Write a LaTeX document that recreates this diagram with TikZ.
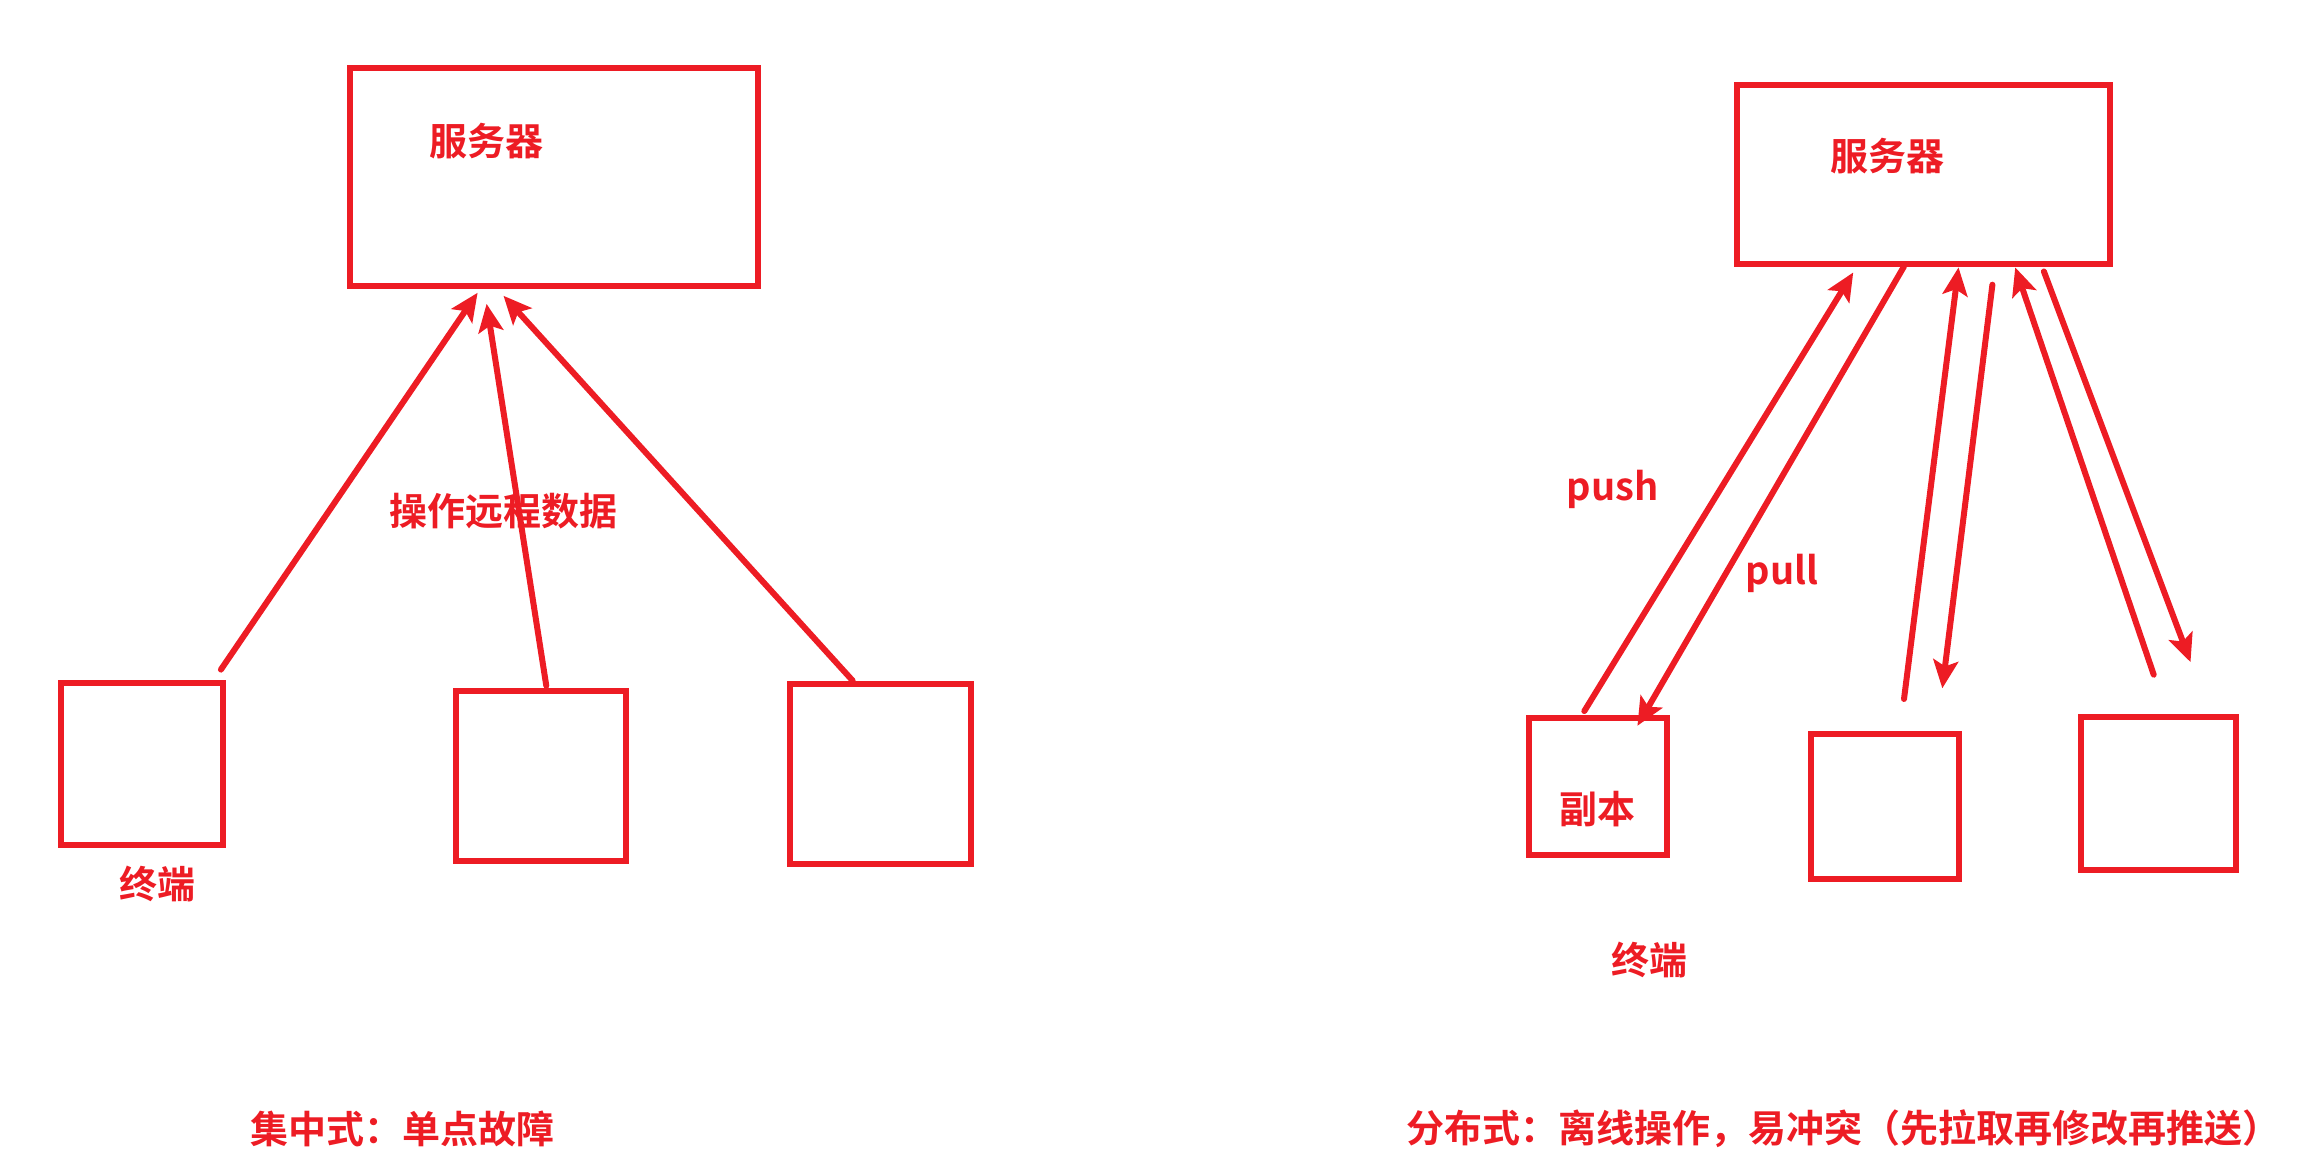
\documentclass[tikz,border=0pt]{standalone}
\usepackage{fontspec}
\newfontfamily\cjk{Noto Sans CJK SC}[BoldFont={Noto Sans CJK SC Bold}]
\usetikzlibrary{arrows.meta}
\definecolor{pred}{HTML}{ED1C24}
\tikzset{
  box/.style={draw=pred, line width=3pt, rectangle, inner sep=0pt},
  lbl/.style={text=pred, font=\cjk\bfseries\fontsize{19pt}{22pt}\selectfont, inner sep=0pt},
  arr/.style={draw=pred, line width=3pt, line cap=round, -{Stealth[length=14pt, width=12.5pt, inset=3pt]}}
}
\begin{document}
\begin{tikzpicture}[x=0.5pt, y=-0.5pt]
\useasboundingbox (0,0) rectangle (2311,1176);
% ---- left: centralised ----
\node[box, minimum width=204pt, minimum height=108.9pt] (ls) at (554.2,176.8) {};
\node[lbl] (lst) at (486.6,140.8) {服务器};
\node[box, minimum width=81.1pt, minimum height=81pt] (lt1) at (141.8,763.8) {};
\node[box, minimum width=85.1pt, minimum height=85.1pt] (lt2) at (540.8,776) {};
\node[box, minimum width=90.5pt, minimum height=90.2pt] (lt3) at (880.5,774) {};
\node[lbl] (lop) at (503.5,511.6) {操作远程数据};
\node[lbl] (lterm) at (157.2,884.3) {终端};
\node[lbl] (lcap) at (402,1128.5) {集中式：单点故障};
\coordinate (la1s) at (220.9,669.6); \coordinate (la1e) at (477.6,292.8);
\coordinate (la2s) at (546.3,685.8); \coordinate (la2e) at (486.6,303.9);
\coordinate (la3s) at (852.7,680.7); \coordinate (la3e) at (503.5,295.8);
\draw[arr] (la1s) -- (la1e);
\draw[arr] (la2s) -- (la2e);
\draw[arr] (la3s) -- (la3e);
% ---- right: distributed ----
\node[box, minimum width=186.5pt, minimum height=89.6pt] (rs) at (1923.7,174.8) {};
\node[lbl] (rst) at (1887.9,156) {服务器};
\node[box, minimum width=68.9pt, minimum height=68.4pt] (rt1) at (1598,786.6) {};
\node[box, minimum width=73.7pt, minimum height=72.9pt] (rt2) at (1884.9,806.4) {};
\node[box, minimum width=77.2pt, minimum height=76.5pt] (rt3) at (2158.5,793.7) {};
\node[lbl] (rcopy) at (1597.8,809.4) {副本};
\node[lbl] (rterm) at (1649.5,959.8) {终端};
\node[lbl] (push) at (1612.7,489.3) {push};
\node[lbl] (pull) at (1781.9,573.4) {pull};
\node[lbl] (rcap) at (1843.5,1128.5) {分布式：离线操作，易冲突（先拉取再修改再推送）};
\coordinate (ra1s) at (1584.3,711.1); \coordinate (ra1e) at (1853.2,272.5);
\coordinate (ra2s) at (1904.0,266.4); \coordinate (ra2e) at (1637.4,725.8);
\coordinate (ra3s) at (1904.0,699);   \coordinate (ra3e) at (1958.5,267.4);
\coordinate (ra4s) at (1992.4,284.7); \coordinate (ra4e) at (1942.3,688.3);
\coordinate (ra5s) at (2153.7,674.7); \coordinate (ra5e) at (2015.2,267.4);
\coordinate (ra6s) at (2043.9,271.5); \coordinate (ra6e) at (2190.5,662.1);
\draw[arr] (ra1s) -- (ra1e);
\draw[arr] (ra2s) -- (ra2e);
\draw[arr] (ra3s) -- (ra3e);
\draw[arr] (ra4s) -- (ra4e);
\draw[arr] (ra5s) -- (ra5e);
\draw[arr] (ra6s) -- (ra6e);
\end{tikzpicture}
\end{document}
